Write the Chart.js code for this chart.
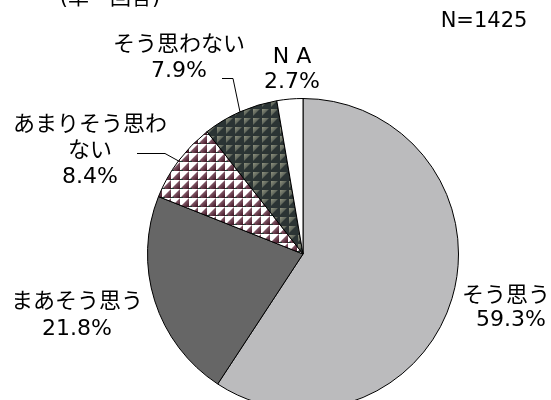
<!DOCTYPE html>
<html>
<head>
<meta charset="utf-8">
<script src="https://cdn.jsdelivr.net/npm/chart.js@4.4.0/dist/chart.umd.min.js"></script>
<style>
  html, body { margin: 0; padding: 0; background: #fff; overflow: hidden; }
  #wrap { width: 551px; height: 400px; overflow: hidden; }
</style>
</head>
<body>
<div id="wrap"><canvas id="c" width="551" height="440"></canvas></div>
<script>
// data
const categories = ['そう思う', 'まあそう思う', 'あまりそう思わない', 'そう思わない', 'NA'];
const shares = [59.3, 21.8, 8.4, 7.9, 2.7];
const sampleSize = 1425;
const subtitle = '(単一回答)';

// how each label is written on the picture
const labelLines = [['そう思う'], ['まあそう思う'], ['あまりそう思わ', 'ない'], ['そう思わない'], ['N A']];

const FONT = '22px "DejaVu Sans", "Noto Sans CJK JP", sans-serif';
const FONT_N = '21px "DejaVu Sans", "Noto Sans CJK JP", sans-serif';

function makePattern(draw) {
  const p = document.createElement('canvas');
  p.width = 9; p.height = 9;
  draw(p.getContext('2d'));
  return document.getElementById('c').getContext('2d').createPattern(p, 'repeat');
}

// maroon / white triangles
const checkPattern = makePattern((g) => {
  g.fillStyle = '#ffffff';
  g.fillRect(0, 0, 9, 9);
  const gr = g.createLinearGradient(9, 9, 3, 3);
  gr.addColorStop(0, '#3a0f1e');
  gr.addColorStop(1, '#9a7080');
  g.fillStyle = gr;
  g.beginPath(); g.moveTo(9, 0); g.lineTo(9, 9); g.lineTo(0, 9); g.closePath(); g.fill();
  g.fillStyle = '#1d3a30';
  g.fillRect(0, 8, 3, 1);
});

// dark slate squares
const darkPattern = makePattern((g) => {
  g.fillStyle = '#2b3434';
  g.fillRect(0, 0, 9, 9);
  const gr = g.createLinearGradient(0, 0, 7, 7);
  gr.addColorStop(0, '#9ea08a');
  gr.addColorStop(1, '#39423f');
  g.fillStyle = gr;
  g.beginPath(); g.moveTo(1, 1); g.lineTo(8, 1); g.lineTo(1, 8); g.closePath(); g.fill();
});

const labelPos = [
  { x: 506, y: [296], pct: 320 },
  { x: 77, y: [302], pct: 329 },
  { x: 90, y: [125, 151], pct: 177, lead: [137, 165, 153] },
  { x: 179, y: [45], pct: 71, lead: [222, 233, 78] },
  { x: 292, y: [57], pct: 82 }
];

const labelPlugin = {
  id: 'labels',
  afterDraw(chart) {
    const ctx = chart.ctx;
    const arcs = chart.getDatasetMeta(0).data;
    ctx.save();
    ctx.fillStyle = '#000';
    ctx.textAlign = 'center';
    ctx.textBaseline = 'middle';

    ctx.font = FONT_N;
    ctx.fillText(subtitle, 110, -1);
    ctx.fillText('N=' + sampleSize, 484, 22);

    ctx.font = FONT;
    labelPos.forEach((lp, i) => {
      labelLines[i].forEach((t, k) => ctx.fillText(t, lp.x, lp.y[k]));
      ctx.fillText(shares[i].toFixed(1) + '%', lp.x + (i === 0 ? 5 : 0), lp.pct);
      if (lp.lead) {
        const a = arcs[i];
        const mid = (a.startAngle + a.endAngle) / 2;
        const ex = a.x + Math.cos(mid) * a.outerRadius;
        const ey = a.y + Math.sin(mid) * a.outerRadius;
        ctx.strokeStyle = '#000';
        ctx.lineWidth = 1;
        ctx.beginPath();
        ctx.moveTo(lp.lead[0], lp.lead[2] + 0.5);
        ctx.lineTo(lp.lead[1], lp.lead[2] + 0.5);
        ctx.lineTo(ex, ey);
        ctx.stroke();
      }
    });
    ctx.restore();
  }
};

new Chart(document.getElementById('c'), {
  type: 'pie',
  data: {
    labels: categories,
    datasets: [{
      data: shares,
      backgroundColor: ['#bbbbbd', '#666666', checkPattern, darkPattern, '#ffffff'],
      borderColor: '#000000',
      borderWidth: 1
    }]
  },
  options: {
    responsive: false,
    animation: false,
    layout: { padding: { left: 147, right: 92, top: 98, bottom: 30 } },
    plugins: {
      legend: { display: false },
      tooltip: { enabled: false }
    }
  },
  plugins: [labelPlugin]
});
</script>
</body>
</html>
